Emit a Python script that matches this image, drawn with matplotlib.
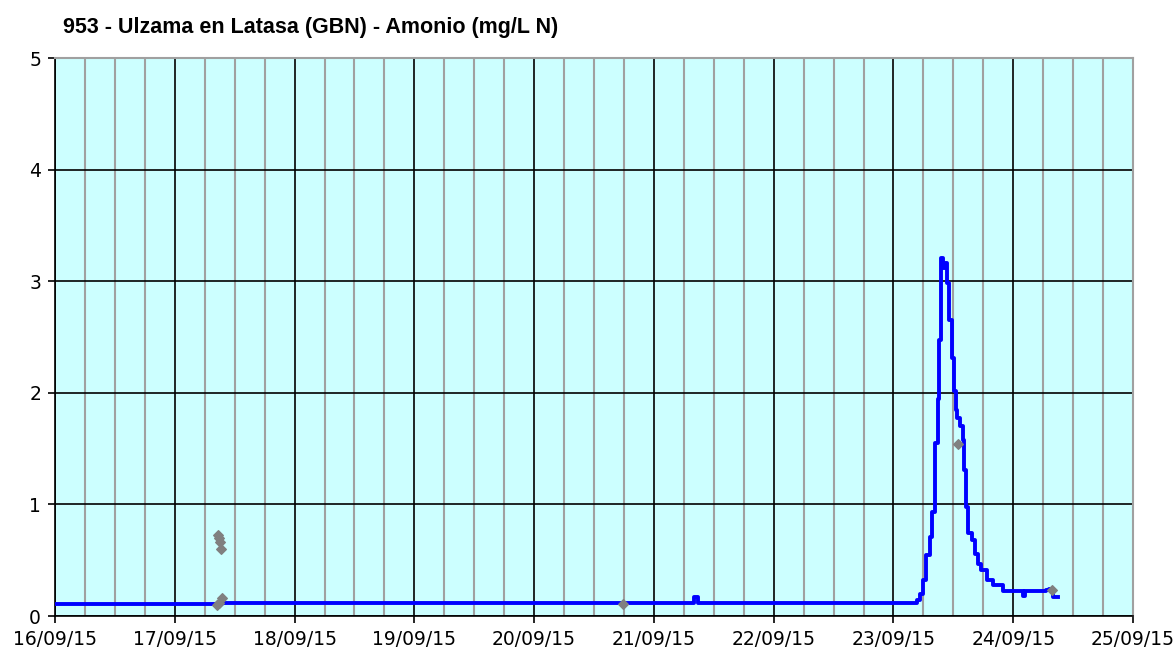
import pandas as pd
import matplotlib
matplotlib.use("Agg")
import matplotlib.pyplot as plt
import matplotlib.dates as mdates

# Continuous sensor series (blue line)
line_times = [
    "2015-09-16 00:15", "2015-09-17 09:20", "2015-09-17 09:30", "2015-09-21 07:50",
    "2015-09-21 08:00", "2015-09-21 08:50", "2015-09-23 04:30", "2015-09-23 04:38",
    "2015-09-23 05:17", "2015-09-23 05:57", "2015-09-23 06:37", "2015-09-23 07:18",
    "2015-09-23 07:49", "2015-09-23 08:18", "2015-09-23 08:57", "2015-09-23 09:09",
    "2015-09-23 09:26", "2015-09-23 09:37", "2015-09-23 09:58", "2015-09-23 10:18",
    "2015-09-23 10:38", "2015-09-23 11:10", "2015-09-23 11:38", "2015-09-23 12:06",
    "2015-09-23 12:30", "2015-09-23 12:50", "2015-09-23 13:18", "2015-09-23 13:51",
    "2015-09-23 14:07", "2015-09-23 14:30", "2015-09-23 14:57", "2015-09-23 15:39",
    "2015-09-23 16:19", "2015-09-23 16:58", "2015-09-23 17:38", "2015-09-23 18:39",
    "2015-09-23 19:58", "2015-09-23 21:59", "2015-09-24 01:55", "2015-09-24 02:24",
    "2015-09-24 06:40", "2015-09-24 07:12", "2015-09-24 07:55", "2015-09-24 09:00",
]
line_values = [
    0.11, 0.11, 0.12, 0.12,
    0.17, 0.12, 0.12, 0.14,
    0.20, 0.32, 0.55, 0.71,
    0.93, 1.55, 1.94, 2.47,
    2.94, 3.21, 3.12, 3.16,
    2.98, 2.65, 2.31, 2.02,
    1.85, 1.77, 1.70, 1.58,
    1.31, 0.98, 0.74, 0.68,
    0.56, 0.47, 0.41, 0.32,
    0.28, 0.22, 0.18, 0.22,
    0.23, 0.24, 0.17, 0.17,
]

# Lab samples (grey diamonds)
sample_times = [
    "2015-09-17 08:24", "2015-09-17 08:43", "2015-09-17 08:55", "2015-09-17 09:03",
    "2015-09-17 09:12", "2015-09-17 08:50", "2015-09-17 09:23", "2015-09-20 17:51",
    "2015-09-23 12:58", "2015-09-24 07:41",
]
sample_values = [0.10, 0.73, 0.70, 0.66, 0.60, 0.12, 0.16, 0.11, 1.54, 0.23]

title = "953 - Ulzama en Latasa (GBN) - Amonio (mg/L N)"

lt = pd.to_datetime(line_times)
st = pd.to_datetime(sample_times)

fig = plt.figure(figsize=(11.76, 6.48), dpi=100)
ax = fig.add_axes([55 / 1176, 1 - 616 / 648, 1078 / 1176, 558 / 648])
ax.set_facecolor("#ccffff")

ax.plot(lt, line_values, color="#0000ff", lw=2.8, drawstyle="steps-post", zorder=3)
ax.scatter(st, sample_values, marker="D", s=24, color="#808080", zorder=4)

ax.set_xlim(pd.Timestamp("2015-09-16"), pd.Timestamp("2015-09-25"))
ax.set_ylim(0, 5)
ax.set_yticks(range(6))

ax.xaxis.set_major_locator(mdates.DayLocator())
ax.xaxis.set_minor_locator(mdates.HourLocator(byhour=[6, 12, 18]))
ax.xaxis.set_major_formatter(mdates.DateFormatter("%d/%m/%y"))

ax.grid(which="minor", axis="x", color="#a0a0a0", lw=1.5)
ax.grid(which="major", axis="both", color="black", lw=1.2)
ax.set_axisbelow(True)

ax.tick_params(axis="both", which="major", length=5, width=1.2, labelsize=13.5, pad=5)
ax.tick_params(axis="x", which="minor", length=0)
for lab in ax.get_xticklabels() + ax.get_yticklabels():
    lab.set_family("DejaVu Sans")

ax.spines["left"].set_linewidth(1.2)
ax.spines["bottom"].set_linewidth(1.2)
ax.spines["top"].set_color("#a0a0a0")
ax.spines["right"].set_color("#a0a0a0")
ax.spines["top"].set_linewidth(1.5)
ax.spines["right"].set_linewidth(1.5)

fig.text(63 / 1176, 1 - 28 / 648, title, fontsize=15.5, fontweight="bold",
         family="Liberation Sans", ha="left", va="center")

fig.savefig("out.png", dpi=100)
